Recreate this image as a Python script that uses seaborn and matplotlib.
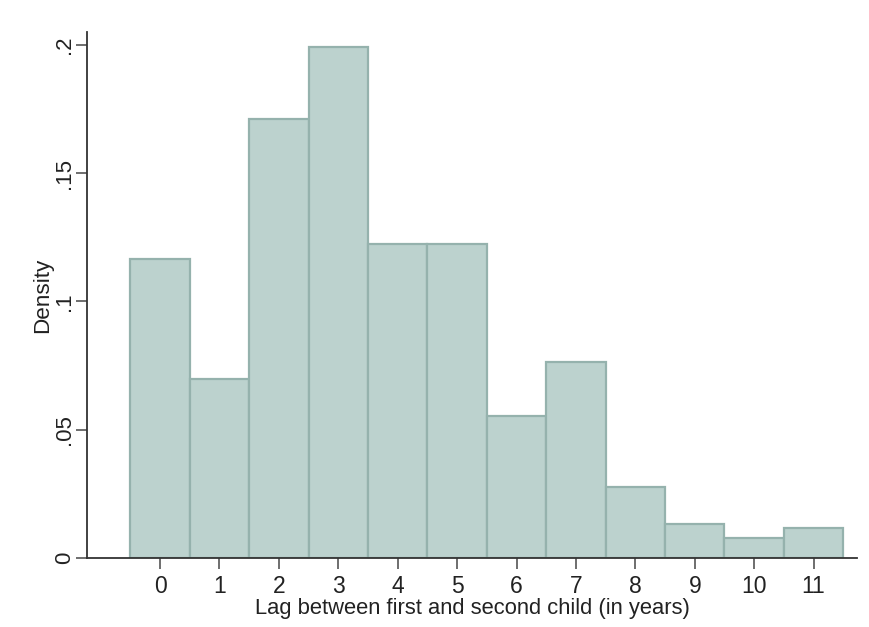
import numpy as np
import pandas as pd
import matplotlib
matplotlib.use("Agg")
import matplotlib.pyplot as plt
import seaborn as sns

# Data
lag_years = [0, 1, 2, 3, 4, 5, 6, 7, 8, 9, 10, 11]
density = [0.1165, 0.0697, 0.1711, 0.1993, 0.1223, 0.1223,
           0.0555, 0.0764, 0.0276, 0.0133, 0.0077, 0.0118]
y_ticks = [0, 0.05, 0.1, 0.15, 0.2]
y_tick_labels = ["0", ".05", ".1", ".15", ".2"]
x_label = "Lag between first and second child (in years)"
y_label = "Density"

df = pd.DataFrame({"lag": lag_years, "density": density})

sns.set_style("white")
plt.rcParams["font.family"] = ["Liberation Sans", "DejaVu Sans"]

fig = plt.figure(figsize=(8.70, 6.27), dpi=100)
ax = fig.add_axes([0.100, 0.110, 0.885, 0.839])

sns.histplot(data=df, x="lag", weights="density", discrete=True,
             stat="count", ax=ax, color="#bcd2ce", alpha=1.0,
             edgecolor="#95b2ad", linewidth=1.6)

ax.set_xlim(-1.23, 11.73)
ax.set_ylim(0, 0.205)
ax.set_xticks(lag_years)
ax.set_xticklabels([str(v) for v in lag_years], fontsize=16.5, color="#222222")
ax.set_yticks(y_ticks)
ax.set_yticklabels(y_tick_labels, fontsize=16, color="#222222",
                   rotation=90, va="center")
ax.set_xlabel(x_label, fontsize=15.8, color="#222222", labelpad=0)
ax.set_ylabel(y_label, fontsize=16.2, color="#222222", labelpad=1)

for side in ["top", "right"]:
    ax.spines[side].set_visible(False)
for side in ["left", "bottom"]:
    ax.spines[side].set_color("#333333")
    ax.spines[side].set_linewidth(1.3)

ax.tick_params(axis="both", which="major", length=8, width=1.2,
               color="#555555", direction="out", bottom=True, left=True)
ax.tick_params(axis="x", pad=4)
ax.tick_params(axis="y", pad=0.5)

fig.savefig("out.png", dpi=100, facecolor="white")
